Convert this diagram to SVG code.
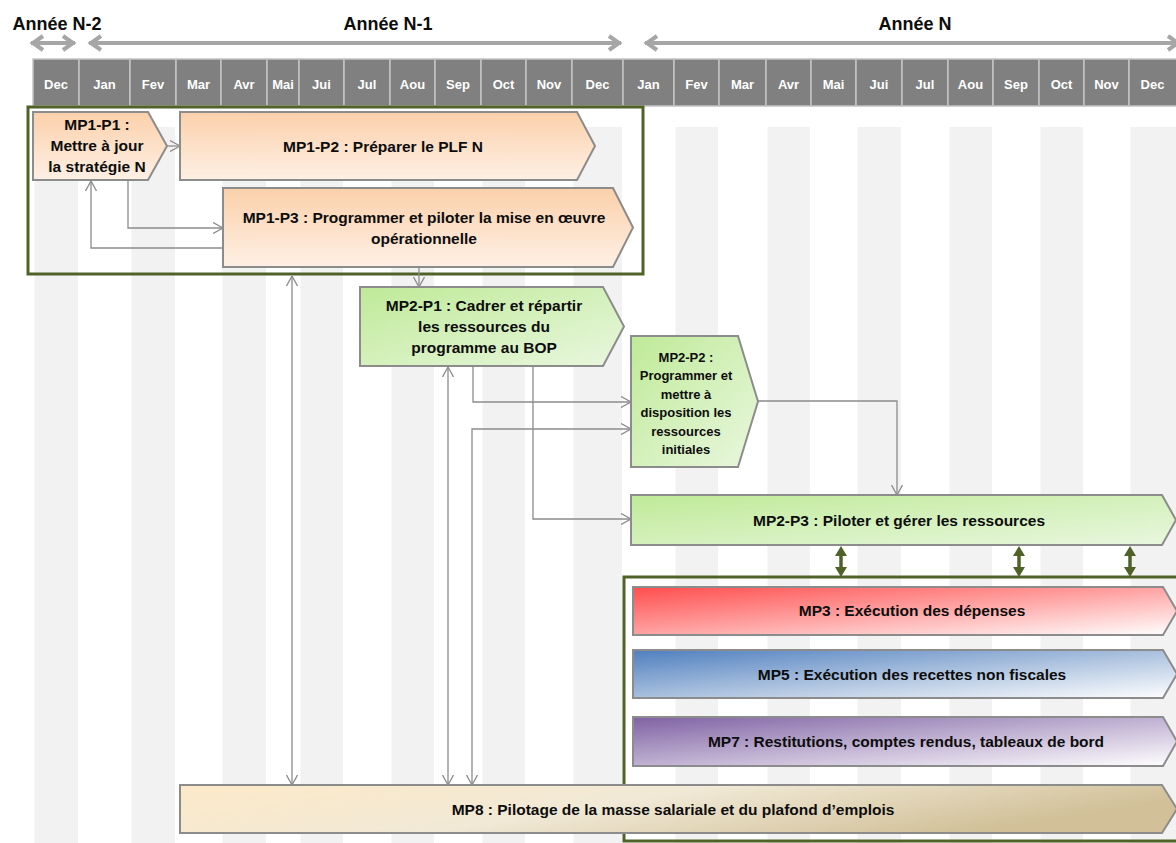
<svg xmlns="http://www.w3.org/2000/svg" width="1176" height="843" viewBox="0 0 1176 843">
<style>
.yr{font-family:"Liberation Sans",Arial,sans-serif;font-weight:bold;font-size:18px;fill:#0d0d0d;text-anchor:middle}
.mo{font-family:"Liberation Sans",Arial,sans-serif;font-weight:bold;font-size:13px;fill:#ffffff;text-anchor:middle}
.cell{fill:#808080;stroke:#c4c4c4;stroke-width:1.5}
.stripe{fill:#f2f2f2}
.tl{fill:none;stroke:#a6a6a6;stroke-width:4;stroke-linejoin:miter}
.box{stroke:#8c8c8c;stroke-width:2}
.t{font-family:"Liberation Sans",Arial,sans-serif;font-weight:bold;font-size:15.5px;fill:#0d0d0d;text-anchor:middle}
.ts{font-family:"Liberation Sans",Arial,sans-serif;font-weight:bold;font-size:13px;fill:#0d0d0d;text-anchor:middle}
.cont{fill:none;stroke:#4f6228;stroke-width:3}
.con{fill:none;stroke:#8c8c8c;stroke-width:1.3}
.gcon{fill:none;stroke:#4f6228;stroke-width:3.5}
</style>
<defs>
<linearGradient id="gOr" x1="0" y1="0" x2="0" y2="1"><stop offset="0" stop-color="#fbd0aa"/><stop offset="1" stop-color="#fef0e5"/></linearGradient>
<linearGradient id="gGr" x1="0" y1="0" x2="1" y2="1"><stop offset="0" stop-color="#bfea98"/><stop offset="1" stop-color="#e9f7df"/></linearGradient>
<linearGradient id="gRd" x1="0" y1="0" x2="1" y2="1"><stop offset="0" stop-color="#ff4d4d"/><stop offset="0.5" stop-color="#ffa3a3"/><stop offset="1" stop-color="#ffffff"/></linearGradient>
<linearGradient id="gBl" x1="0" y1="0" x2="1" y2="1"><stop offset="0" stop-color="#4f7fbf"/><stop offset="0.5" stop-color="#a9c0de"/><stop offset="1" stop-color="#ffffff"/></linearGradient>
<linearGradient id="gPu" x1="0" y1="0" x2="1" y2="1"><stop offset="0" stop-color="#7f62a3"/><stop offset="0.5" stop-color="#c0b1d2"/><stop offset="1" stop-color="#ffffff"/></linearGradient>
<linearGradient id="gTa" x1="0" y1="0" x2="1" y2="0.3"><stop offset="0" stop-color="#fde9c8"/><stop offset="0.5" stop-color="#f1e9d6"/><stop offset="1" stop-color="#d1c098"/></linearGradient>
<marker id="ah" viewBox="0 0 10 12" refX="10" refY="6" markerWidth="10" markerHeight="12" markerUnits="userSpaceOnUse" orient="auto-start-reverse"><path d="M0,0.5 L10,6 L0,11.5" fill="none" stroke="#8c8c8c" stroke-width="1.3"/></marker>
<marker id="gh" viewBox="0 0 10 12" refX="2" refY="6" markerWidth="10" markerHeight="12" markerUnits="userSpaceOnUse" orient="auto-start-reverse"><path d="M0,0 L10,6 L0,12 Z" fill="#4f6228"/></marker>
</defs>

<rect width="1176" height="843" fill="#ffffff"/>

<g id="stripes">
<rect class="stripe" x="34.5" y="127" width="43.5" height="716"/>
<rect class="stripe" x="131.5" y="127" width="43.5" height="716"/>
<rect class="stripe" x="222.5" y="127" width="43.5" height="716"/>
<rect class="stripe" x="300.5" y="127" width="42.5" height="716"/>
<rect class="stripe" x="391.5" y="127" width="42.5" height="716"/>
<rect class="stripe" x="482.5" y="127" width="42.5" height="716"/>
<rect class="stripe" x="573.5" y="127" width="48.5" height="716"/>
<rect class="stripe" x="675.5" y="127" width="42.5" height="716"/>
<rect class="stripe" x="767.5" y="127" width="42.5" height="716"/>
<rect class="stripe" x="857.5" y="127" width="43.5" height="716"/>
<rect class="stripe" x="949.5" y="127" width="42.5" height="716"/>
<rect class="stripe" x="1040.5" y="127" width="42.5" height="716"/>
<rect class="stripe" x="1130.5" y="127" width="45.5" height="716"/>
</g>

<g id="years">
<text class="yr" x="57" y="30">Année N-2</text>
<text class="yr" x="388" y="30">Année N-1</text>
<text class="yr" x="915" y="30">Année N</text>
<path class="tl" d="M31,43 H75 M43,36 L33,43 L43,50 M63,36 L73,43 L63,50"/>
<path class="tl" d="M89,43 H621 M101,36 L91,43 L101,50 M609,36 L619,43 L609,50"/>
<path class="tl" d="M645,43 H1180 M657,36 L647,43 L657,50 M1168,36 L1178,43 L1168,50"/>
</g>

<g id="header">
<rect class="cell" x="33" y="59" width="46" height="47"/>
<rect class="cell" x="79" y="59" width="51" height="47"/>
<rect class="cell" x="130" y="59" width="46" height="47"/>
<rect class="cell" x="176" y="59" width="45" height="47"/>
<rect class="cell" x="221" y="59" width="46" height="47"/>
<rect class="cell" x="267" y="59" width="32" height="47"/>
<rect class="cell" x="299" y="59" width="45" height="47"/>
<rect class="cell" x="344" y="59" width="46" height="47"/>
<rect class="cell" x="390" y="59" width="45" height="47"/>
<rect class="cell" x="435" y="59" width="46" height="47"/>
<rect class="cell" x="481" y="59" width="45" height="47"/>
<rect class="cell" x="526" y="59" width="46" height="47"/>
<rect class="cell" x="572" y="59" width="51" height="47"/>
<rect class="cell" x="623" y="59" width="51" height="47"/>
<rect class="cell" x="674" y="59" width="45" height="47"/>
<rect class="cell" x="719" y="59" width="47" height="47"/>
<rect class="cell" x="766" y="59" width="45" height="47"/>
<rect class="cell" x="811" y="59" width="45" height="47"/>
<rect class="cell" x="856" y="59" width="46" height="47"/>
<rect class="cell" x="902" y="59" width="46" height="47"/>
<rect class="cell" x="948" y="59" width="45" height="47"/>
<rect class="cell" x="993" y="59" width="46" height="47"/>
<rect class="cell" x="1039" y="59" width="45" height="47"/>
<rect class="cell" x="1084" y="59" width="45" height="47"/>
<rect class="cell" x="1129" y="59" width="48" height="47"/>
<text class="mo" x="56" y="89">Dec</text>
<text class="mo" x="104.5" y="89">Jan</text>
<text class="mo" x="153" y="89">Fev</text>
<text class="mo" x="198.5" y="89">Mar</text>
<text class="mo" x="244" y="89">Avr</text>
<text class="mo" x="283" y="89">Mai</text>
<text class="mo" x="321.5" y="89">Jui</text>
<text class="mo" x="367" y="89">Jul</text>
<text class="mo" x="412.5" y="89">Aou</text>
<text class="mo" x="458" y="89">Sep</text>
<text class="mo" x="503.5" y="89">Oct</text>
<text class="mo" x="549" y="89">Nov</text>
<text class="mo" x="597.5" y="89">Dec</text>
<text class="mo" x="648.5" y="89">Jan</text>
<text class="mo" x="696.5" y="89">Fev</text>
<text class="mo" x="742.5" y="89">Mar</text>
<text class="mo" x="788.5" y="89">Avr</text>
<text class="mo" x="833.5" y="89">Mai</text>
<text class="mo" x="879" y="89">Jui</text>
<text class="mo" x="925" y="89">Jul</text>
<text class="mo" x="970.5" y="89">Aou</text>
<text class="mo" x="1016" y="89">Sep</text>
<text class="mo" x="1061.5" y="89">Oct</text>
<text class="mo" x="1106.5" y="89">Nov</text>
<text class="mo" x="1152.5" y="89">Dec</text>
</g>

<g id="MP1">
<rect class="cont" x="28" y="107" width="615" height="167"/>
</g>

<g id="MP1-P1">
<path class="box" fill="url(#gOr)" d="M33,112 H148 L167,146 L148,180 H33 Z"/>
<text class="t" x="97" y="130">MP1-P1 :</text>
<text class="t" x="97" y="151">Mettre à jour</text>
<text class="t" x="97" y="172">la stratégie N</text>
</g>

<g id="MP1-P2">
<path class="box" fill="url(#gOr)" d="M180,112 H577 L595,146 L577,180 H180 Z"/>
<text class="t" x="383" y="152">MP1-P2 : Préparer le PLF N</text>
</g>

<g id="MP1-P3">
<path class="box" fill="url(#gOr)" d="M223,188 H613 L633,227.5 L613,267 H223 Z"/>
<text class="t" x="424" y="223">MP1-P3 : Programmer et piloter la mise en œuvre</text>
<text class="t" x="424" y="244">opérationnelle</text>
</g>

<g id="MP2-P1">
<path class="box" fill="url(#gGr)" d="M360,287 H603 L624,326.5 L603,366 H360 Z"/>
<text class="t" x="484" y="311">MP2-P1 : Cadrer et répartir</text>
<text class="t" x="484" y="332">les ressources du</text>
<text class="t" x="484" y="353">programme au BOP</text>
</g>

<g id="MP2-P2">
<path class="box" fill="url(#gGr)" d="M631,336 H738 L758,401.5 L738,467 H631 Z"/>
<text class="ts" x="686" y="361.5">MP2-P2 :</text>
<text class="ts" x="686" y="380">Programmer et</text>
<text class="ts" x="686" y="398.5">mettre à</text>
<text class="ts" x="686" y="417">disposition les</text>
<text class="ts" x="686" y="435.5">ressources</text>
<text class="ts" x="686" y="454">initiales</text>
</g>

<g id="MP2-P3">
<path class="box" fill="url(#gGr)" d="M631,495 H1162 L1176,520 L1162,545 H631 Z"/>
<text class="t" x="899" y="526">MP2-P3 : Piloter et gérer les ressources</text>
</g>

<g id="MP-exec">
<rect class="cont" x="624" y="577" width="570" height="264"/>
</g>

<g id="MP3">
<path class="box" fill="url(#gRd)" d="M633,587 H1163 L1177,611 L1163,635 H633 Z"/>
<text class="t" x="912" y="616">MP3 : Exécution des dépenses</text>
</g>

<g id="MP5">
<path class="box" fill="url(#gBl)" d="M633,650 H1163 L1177,674 L1163,698 H633 Z"/>
<text class="t" x="912" y="679.5">MP5 : Exécution des recettes non fiscales</text>
</g>

<g id="MP7">
<path class="box" fill="url(#gPu)" d="M633,717 H1163 L1177,741.5 L1163,766 H633 Z"/>
<text class="t" x="906" y="747">MP7 : Restitutions, comptes rendus, tableaux de bord</text>
</g>

<g id="MP8">
<path class="box" fill="url(#gTa)" d="M180,785 H1162 L1177,809 L1162,833 H180 Z"/>
<text class="t" x="673" y="814.5">MP8 : Pilotage de la masse salariale et du plafond d’emplois</text>
</g>

<g id="connectors">
<path class="con" d="M167,146 H180" marker-end="url(#ah)"/>
<path class="con" d="M128,180 V228 H223" marker-end="url(#ah)"/>
<path class="con" d="M223,248 H91 V181" marker-end="url(#ah)"/>
<path class="con" d="M419,267 V287" marker-end="url(#ah)"/>
<path class="con" d="M292,276 V785" marker-start="url(#ah)" marker-end="url(#ah)"/>
<path class="con" d="M448,367 V785" marker-start="url(#ah)" marker-end="url(#ah)"/>
<path class="con" d="M473,366 V402 H631" marker-end="url(#ah)"/>
<path class="con" d="M472,785 V429 H631" marker-start="url(#ah)" marker-end="url(#ah)"/>
<path class="con" d="M533,366 V519 H631" marker-end="url(#ah)"/>
<path class="con" d="M758,401 H897 V495" marker-end="url(#ah)"/>
<path class="gcon" d="M841,554 V569" marker-start="url(#gh)" marker-end="url(#gh)"/>
<path class="gcon" d="M1019,554 V569" marker-start="url(#gh)" marker-end="url(#gh)"/>
<path class="gcon" d="M1130,554 V569" marker-start="url(#gh)" marker-end="url(#gh)"/>
</g>
</svg>
